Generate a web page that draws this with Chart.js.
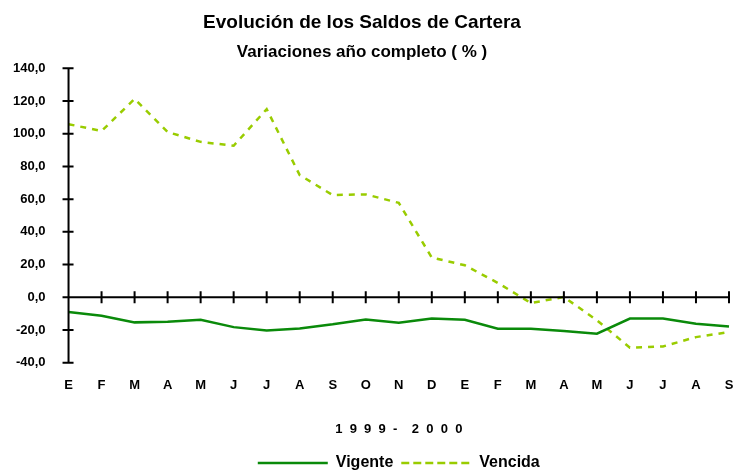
<!DOCTYPE html>
<html>
<head>
<meta charset="utf-8">
<script src="https://cdn.jsdelivr.net/npm/chart.js@4.4.0/dist/chart.umd.min.js"></script>
<style>
  body { margin: 0; background: #fff; }
  #wrap { width: 734px; height: 473px; }
</style>
</head>
<body>
<div id="wrap"><canvas id="cartera" width="734" height="473"></canvas></div>
<script>
const months = ["E", "F", "M", "A", "M", "J", "J", "A", "S", "O", "N", "D",
                "E", "F", "M", "A", "M", "J", "J", "A", "S"];
const vigente = [-9.0, -11.2, -15.3, -14.9, -13.7, -18.2, -20.2, -19.0, -16.5, -13.5, -15.5,
                 -13.0, -13.7, -19.2, -19.2, -20.6, -22.2, -13.0, -13.0, -16.1, -17.8];
const vencida = [105.8, 101.6, 121.2, 101.0, 95.0, 92.6, 115.0, 74.7, 62.5, 62.9, 57.7,
                 24.3, 19.6, 8.8, -3.5, 0.2, -14.0, -30.8, -30.0, -24.3, -21.2];
const yTicks = [-40, -20, 0, 20, 40, 60, 80, 100, 120, 140];

const FONT = "'Liberation Sans Narrow', 'Arial Narrow', 'Liberation Sans', Arial, sans-serif";
Chart.defaults.font.family = FONT;
Chart.defaults.color = "#000";

// zero line + crossing tick marks like the old spreadsheet chart
const axisMarks = {
  id: "axisMarks",
  afterDatasetsDraw(chart) {
    const { ctx, chartArea, scales: { x, y } } = chart;
    const y0 = y.getPixelForValue(0);
    ctx.save();
    ctx.strokeStyle = "#000";
    ctx.lineWidth = 2;
    ctx.beginPath();
    ctx.moveTo(chartArea.left - 6, y0);
    ctx.lineTo(chartArea.right, y0);
    ctx.moveTo(chartArea.left, y.getPixelForValue(140) - 1);
    ctx.lineTo(chartArea.left, y.getPixelForValue(-40) + 1);
    yTicks.forEach(v => {
      const py = y.getPixelForValue(v);
      ctx.moveTo(chartArea.left - 6, py);
      ctx.lineTo(chartArea.left + 5, py);
    });
    months.forEach((m, i) => {
      const px = x.getPixelForValue(i);
      ctx.moveTo(px, y0 - 6);
      ctx.lineTo(px, y0 + 6);
    });
    ctx.stroke();
    ctx.restore();
  }
};

new Chart(document.getElementById("cartera"), {
  type: "line",
  data: {
    labels: months,
    datasets: [
      {
        label: "Vigente",
        data: vigente,
        borderColor: "#0a8a0a",
        borderWidth: 2.5,
        pointRadius: 0,
        tension: 0,
      },
      {
        label: "Vencida",
        data: vencida,
        borderColor: "#99cc00",
        borderWidth: 2.5,
        borderDash: [6, 6],
        pointRadius: 0,
        tension: 0,
      },
    ],
  },
  options: {
    responsive: false,
    animation: false,
    layout: { padding: { top: 10, right: 0, left: -10, bottom: -8 } },
    scales: {
      x: {
        offset: false,
        grid: { display: false },
        border: { display: false },
        afterFit: scale => { scale.paddingRight = 5; },
        ticks: { padding: 7, font: { size: 13, weight: "bold" }, maxRotation: 0, autoSkip: false },
        title: {
          display: true,
          text: "1  9  9  9  -    2  0  0  0",
          font: { size: 13, weight: "bold", family: "'Liberation Sans', Arial, sans-serif" },
          padding: { top: 21, bottom: 10 },
        },
      },
      y: {
        min: -40,
        max: 140,
        grid: { display: false, drawTicks: false },
        border: { display: false },
        afterBuildTicks: axis => { axis.ticks = yTicks.map(v => ({ value: v })); },
        ticks: {
          padding: 23,
          font: { size: 13, weight: "bold" },
          callback: v => v.toFixed(1).replace(".", ","),
        },
      },
    },
    plugins: {
      title: {
        display: true,
        text: "Evolución de los Saldos de Cartera",
        font: { size: 19, weight: "bold" },
        padding: { top: 1, bottom: 8 },
      },
      subtitle: {
        display: true,
        text: "Variaciones año completo ( % )",
        font: { size: 17, weight: "bold" },
        padding: { top: 0, bottom: 6 },
      },
      legend: {
        position: "bottom",
        fullSize: false,
        labels: {
          boxWidth: 70,
          boxHeight: 0,
          padding: 8,
          font: { size: 16, weight: "bold" },
          generateLabels: chart => chart.data.datasets.map((ds, i) => ({
            text: ds.label,
            datasetIndex: i,
            fillStyle: "rgba(0,0,0,0)",
            strokeStyle: ds.borderColor,
            lineWidth: 2.5,
            lineDash: ds.borderDash || [],
            fontColor: "#000",
          })),
        },
      },
      tooltip: { enabled: false },
    },
  },
  plugins: [axisMarks],
});
</script>
</body>
</html>
